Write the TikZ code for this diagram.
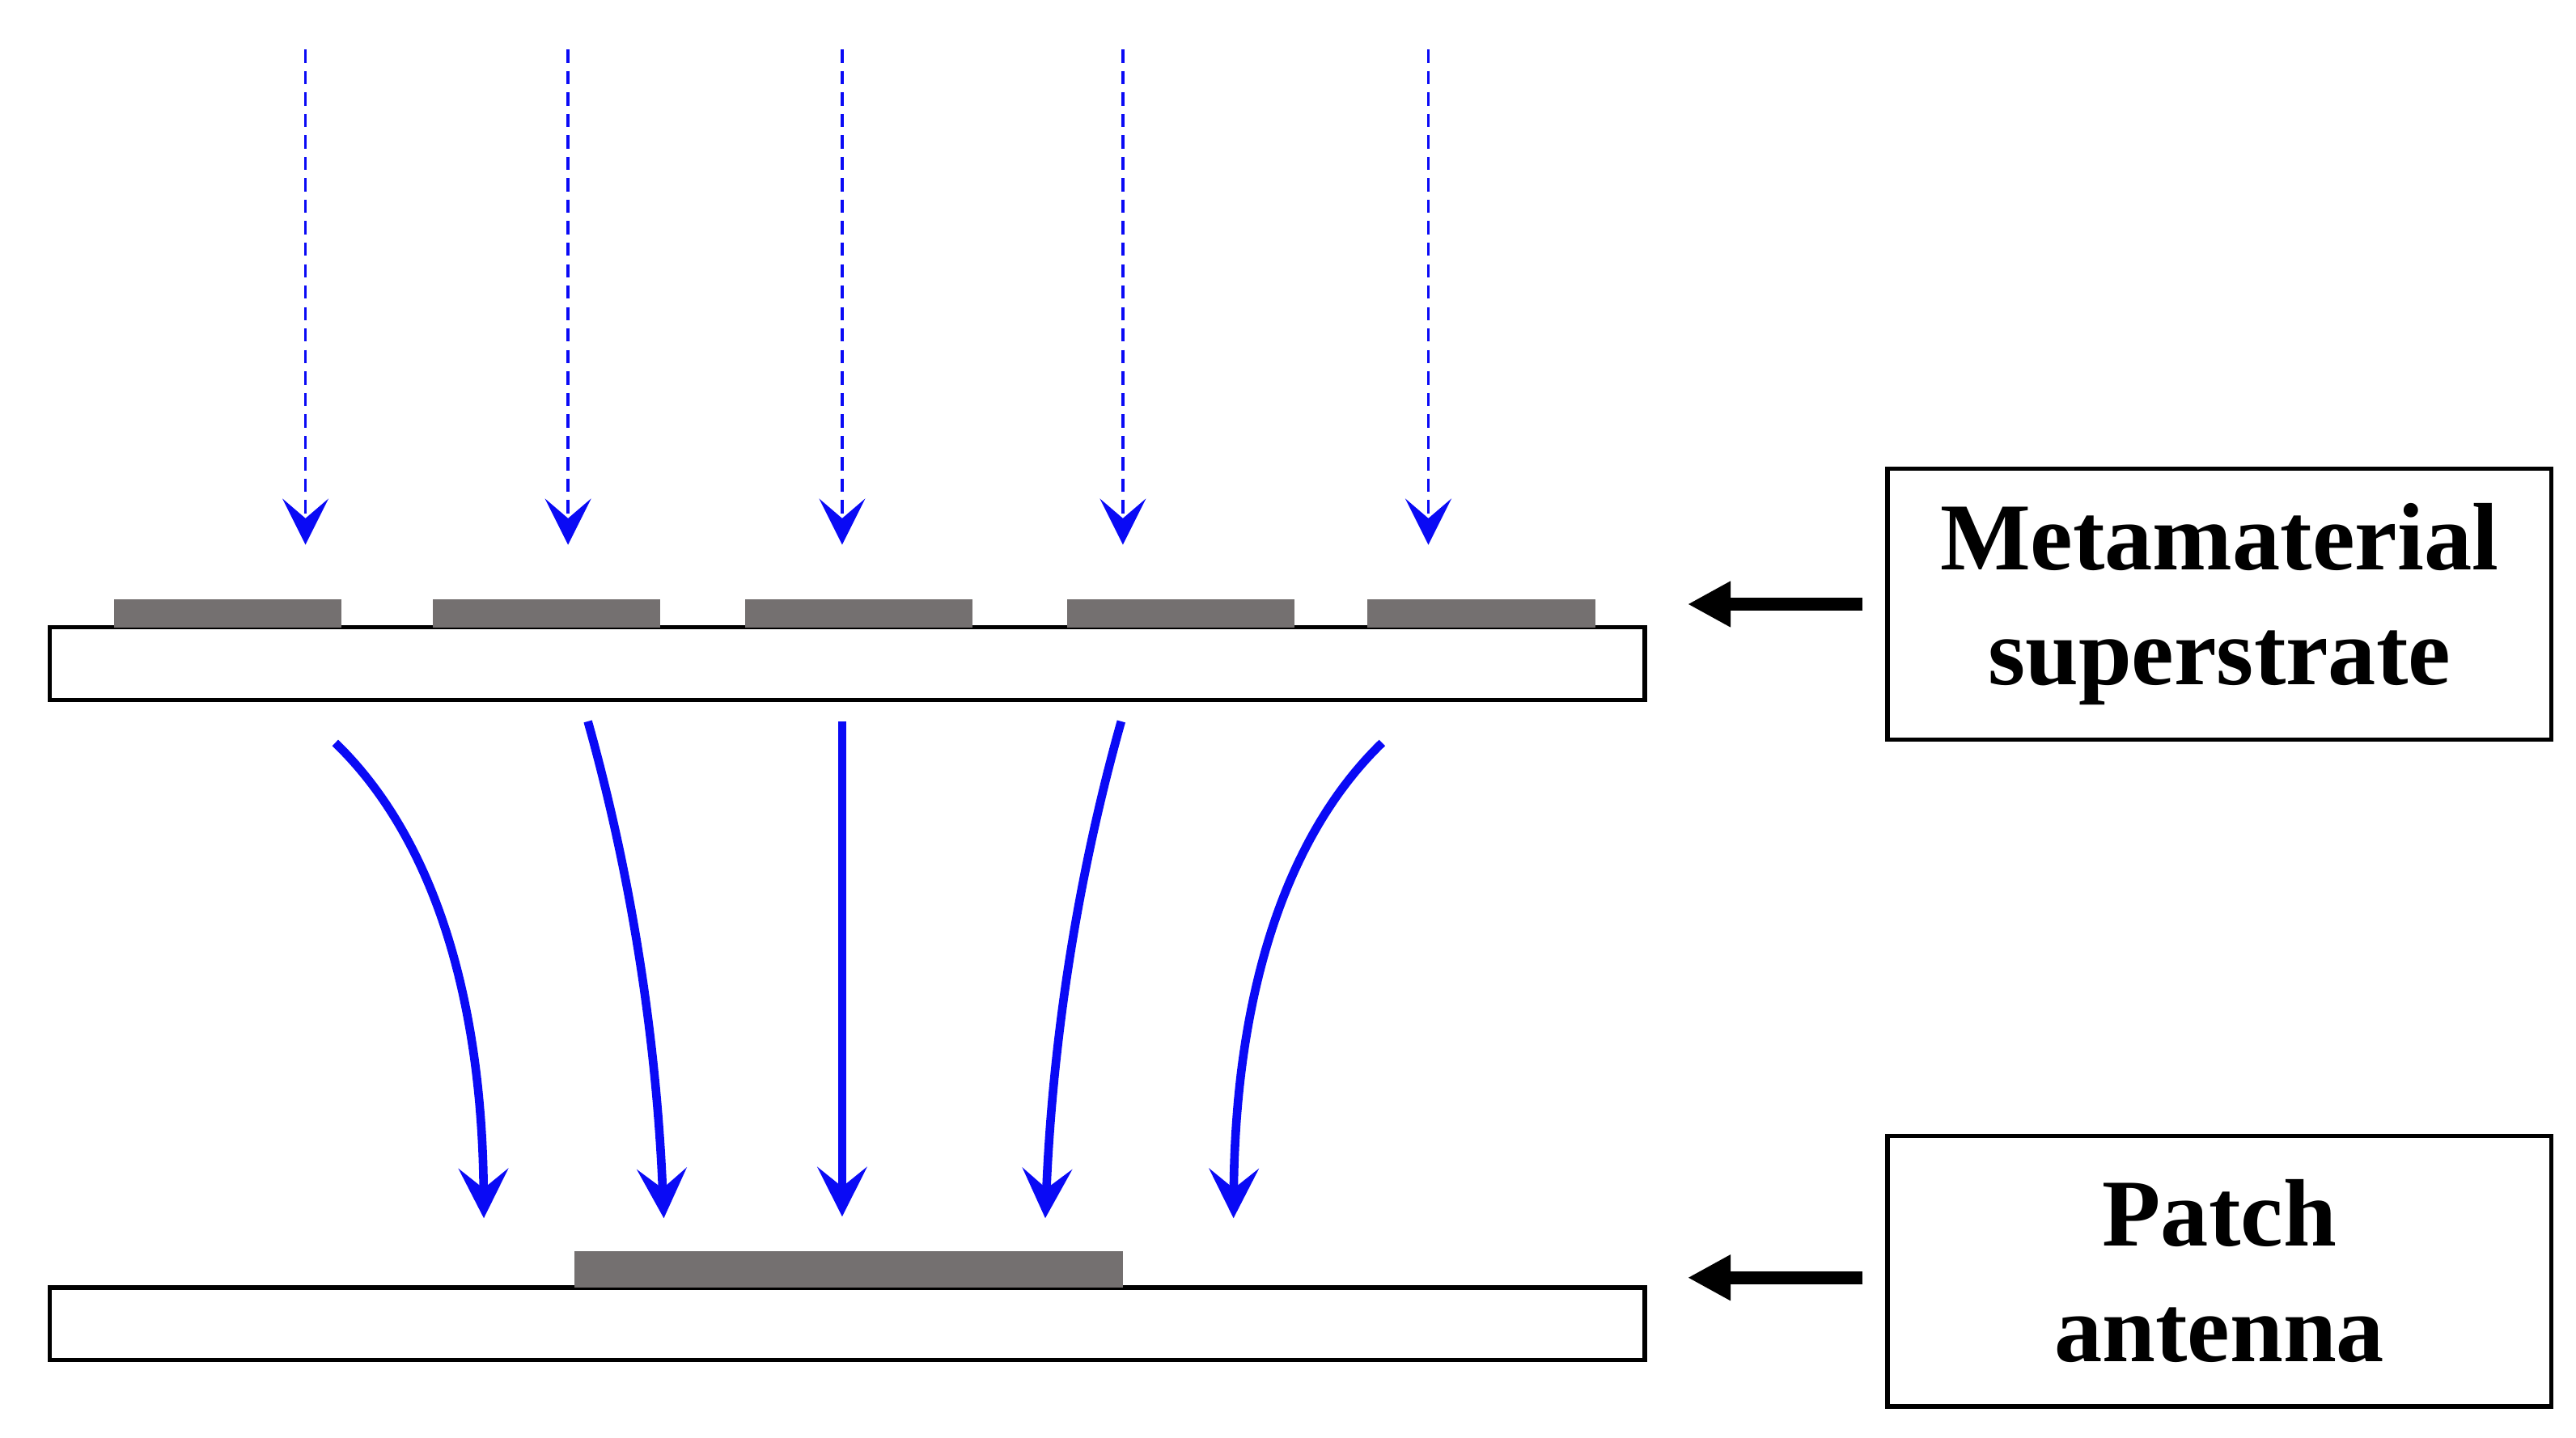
\documentclass[tikz,border=0pt]{standalone}
\usepackage{fontspec}
\setmainfont{Liberation Serif}
\usetikzlibrary{arrows.meta}
\definecolor{patch}{HTML}{747070}
\definecolor{wave}{HTML}{0A0AF5}
\begin{document}
\begin{tikzpicture}[x=0.5pt,y=-0.5pt,
  sub/.style={draw=black,line width=1.3pt,fill=white},
  pat/.style={fill=patch,draw=none},
  inc/.style={wave,line width=0.8pt,dash pattern=on 4pt off 2.5pt,-{Stealth[length=14pt,width=14pt,inset=6pt,line width=0pt]}},
  ref/.style={wave,line width=2.6pt,-{Stealth[length=15pt,width=15pt,inset=6pt]}},
  lead/.style={line width=4pt,-{Triangle[length=13pt,width=13pt]}},
  lbl/.style={draw=black,line width=1.3pt,minimum width=201pt,minimum height=82pt,align=center,font=\fontsize{29}{35}\selectfont\bfseries}]
\useasboundingbox (0,0) rectangle (1560,871);
% substrates
\draw[sub] (30,380) rectangle (996,424);
\draw[sub] (30,780) rectangle (996,824);
% patches
\foreach \a/\b in {69/207,262/400,451/589,646/784,828/966}
  \fill[pat] (\a,363) rectangle (\b,380);
\fill[pat] (348,758) rectangle (680,780);
% incident dashed arrows
\foreach \x [count=\i] in {185,344,510,680,865}{
  \coordinate (s\i) at (\x,30);
  \coordinate (e\i) at (\x,330);
  \draw[inc] (s\i) -- (e\i);
}
% focused arrows
\coordinate (a1) at (203,450); \coordinate (b1) at (293,738);
\coordinate (a2) at (356,437); \coordinate (b2) at (402,738);
\coordinate (a3) at (510,437); \coordinate (b3) at (510,737);
\coordinate (a4) at (679,437); \coordinate (b4) at (633,738);
\coordinate (a5) at (837,450); \coordinate (b5) at (747,738);
\draw[ref] (a1) .. controls (265,510) and (292,610) .. (b1);
\draw[ref] (a2) .. controls (385,540) and (398,640) .. (b2);
\draw[ref] (a3) -- (b3);
\draw[ref] (a4) .. controls (650,540) and (637,640) .. (b4);
\draw[ref] (a5) .. controls (775,510) and (748,610) .. (b5);
% labels
\node[lbl] (meta) at (1344,366) {Metamaterial\\superstrate};
\node[lbl] (patchlbl) at (1344,770) {Patch\\antenna};
\coordinate (p1) at (1128,366); \coordinate (q1) at (1022,366);
\coordinate (p2) at (1128,774); \coordinate (q2) at (1022,774);
\draw[lead] (p1) -- (q1);
\draw[lead] (p2) -- (q2);
\end{tikzpicture}
\end{document}
